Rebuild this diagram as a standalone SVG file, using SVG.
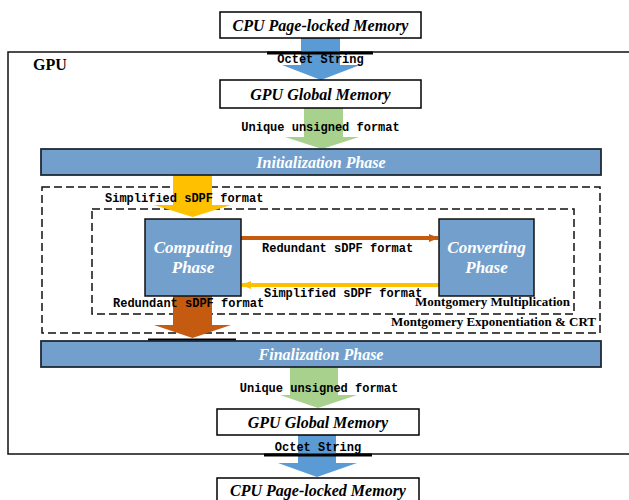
<svg xmlns="http://www.w3.org/2000/svg" width="629" height="500" viewBox="0 0 629 500">
<defs>
<style>
.mem{fill:#fff;stroke:#000;stroke-width:1.5}
.memt{font-family:"Liberation Serif",serif;font-weight:bold;font-style:italic;font-size:16px;fill:#000;text-anchor:middle}
.bar{fill:#739FCD;stroke:#1F2A36;stroke-width:1.8}
.bart{font-family:"Liberation Serif",serif;font-weight:bold;font-style:italic;font-size:16px;fill:#fff;text-anchor:middle}
.ph{fill:#739FCD;stroke:#111;stroke-width:1.5}
.pht{font-family:"Liberation Serif",serif;font-weight:bold;font-style:italic;font-size:17px;fill:#fff;text-anchor:middle}
.mono{font-family:"Liberation Mono","DejaVu Sans Mono",monospace;font-weight:bold;font-size:12px;fill:#000}
.dash{fill:none;stroke:#111;stroke-width:1.5;stroke-dasharray:8 4}
.lbl{font-family:"Liberation Serif",serif;font-weight:bold;font-size:13px;fill:#000;text-anchor:end}
.thick{stroke:#000;stroke-width:3}
</style>
<marker id="ahO" markerWidth="10" markerHeight="10" refX="9" refY="5" orient="auto" markerUnits="userSpaceOnUse">
<path d="M0,1 L10,5 L0,9 Z" fill="#C55A11"/>
</marker>
<marker id="ahY" markerWidth="10" markerHeight="10" refX="9" refY="5" orient="auto" markerUnits="userSpaceOnUse">
<path d="M0,1 L10,5 L0,9 Z" fill="#FFC000"/>
</marker>
</defs>
<rect width="629" height="500" fill="#fff"/>

<g id="gpu">
<rect x="8" y="52" width="626" height="402" fill="none" stroke="#111" stroke-width="1.5"/>
<text x="33" y="70" font-family="Liberation Serif,serif" font-weight="bold" font-size="16" fill="#000">GPU</text>
</g>

<g id="exp-box">
<rect class="dash" x="42" y="187" width="558" height="146"/>
<text class="lbl" x="596" y="326">Montgomery Exponentiation &amp; CRT</text>
</g>
<g id="mul-box">
<rect class="dash" x="92" y="209" width="482" height="105"/>
<text class="lbl" x="570" y="306">Montgomery Multiplication</text>
</g>

<g id="connectors">
<polygon fill="#5B9BD5" points="301,38 340,38 340,65 360,65 321,80 282,65 301,65"/>
<polygon fill="#A9D18E" points="304,108 343,108 343,137 359,137 322,149 285,137 304,137"/>
<polygon fill="#FFC000" points="173,175 212,175 212,205 231,205 192.5,217 154,205 173,205"/>
<polygon fill="#C55A11" points="173,296 212,296 212,325 231,325 192.5,338 154,325 173,325"/>
<polygon fill="#A9D18E" points="290,367 338,367 338,395 357,395 318,408 280,395 290,395"/>
<polygon fill="#5B9BD5" points="298,435 336,435 336,463 357,463 317,477 278,463 298,463"/>
<line x1="241" y1="238" x2="438" y2="238" stroke="#C55A11" stroke-width="4" marker-end="url(#ahO)"/>
<line x1="439" y1="285" x2="242" y2="285" stroke="#FFC000" stroke-width="4" marker-end="url(#ahY)"/>
<line class="thick" x1="267" y1="53" x2="373" y2="53"/>
<line class="thick" x1="264" y1="455" x2="372" y2="455"/>
<line class="thick" x1="148" y1="340" x2="236" y2="340"/>
<text class="mono" x="320.5" y="63" text-anchor="middle">Octet String</text>
<text class="mono" x="320.5" y="131" text-anchor="middle">Unique unsigned format</text>
<text class="mono" x="105" y="202">Simplified sDPF format</text>
<text class="mono" x="262" y="252">Redundant sDPF format</text>
<text class="mono" x="264" y="297">Simplified sDPF format</text>
<text class="mono" x="113" y="307">Redundant sDPF format</text>
<text class="mono" x="319" y="392" text-anchor="middle">Unique unsigned format</text>
<text class="mono" x="318" y="451" text-anchor="middle">Octet String</text>
</g>

<g id="cpu-top">
<rect class="mem" x="220" y="12" width="201" height="26"/>
<text class="memt" x="320.5" y="31">CPU Page-locked Memory</text>
</g>
<g id="gpu-global-top">
<rect class="mem" x="220" y="80" width="201" height="28"/>
<text class="memt" x="320.5" y="100">GPU Global Memory</text>
</g>
<g id="init">
<rect class="bar" x="41" y="149" width="560" height="26"/>
<text class="bart" x="321" y="168">Initialization Phase</text>
</g>
<g id="computing">
<rect class="ph" x="145" y="219" width="96" height="77"/>
<text class="pht" x="193" y="253">Computing</text>
<text class="pht" x="193" y="273">Phase</text>
</g>
<g id="converting">
<rect class="ph" x="439" y="219" width="95" height="77"/>
<text class="pht" x="486.5" y="253">Converting</text>
<text class="pht" x="486.5" y="273">Phase</text>
</g>
<g id="final">
<rect class="bar" x="41" y="341" width="560" height="26"/>
<text class="bart" x="321" y="360">Finalization Phase</text>
</g>
<g id="gpu-global-bottom">
<rect class="mem" x="217" y="409" width="202" height="26"/>
<text class="memt" x="318" y="428">GPU Global Memory</text>
</g>
<g id="cpu-bottom">
<rect class="mem" x="217" y="478" width="202" height="28"/>
<text class="memt" x="318" y="496">CPU Page-locked Memory</text>
</g>
</svg>
